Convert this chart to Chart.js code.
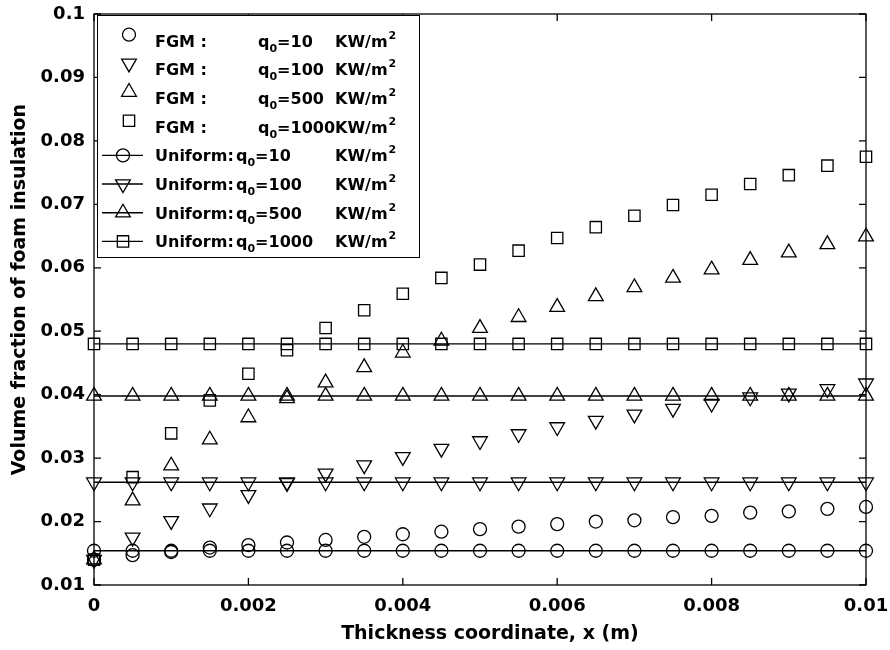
<!DOCTYPE html>
<html lang="en">
<head>
<meta charset="UTF-8">
<title>Volume fraction of foam insulation</title>
<script src="https://cdn.jsdelivr.net/npm/chart.js"></script>
<style>
  body { margin: 0; background: #fff; }
</style>
</head>
<body>
<canvas id="fracChart" width="890" height="650"></canvas>
<script>
// thickness coordinate (m)
const xCoord = [0, 0.0005, 0.001, 0.0015, 0.002, 0.0025, 0.003, 0.0035, 0.004, 0.0045, 0.005,
  0.0055, 0.006, 0.0065, 0.007, 0.0075, 0.008, 0.0085, 0.009, 0.0095, 0.01];

// FGM volume fraction
const fgm10 = [0.0140, 0.0147, 0.0152, 0.0159, 0.0163, 0.0167, 0.0171, 0.0176, 0.0180, 0.0184, 0.0188,
  0.0192, 0.0196, 0.0200, 0.0202, 0.0207, 0.0209, 0.0214, 0.0216, 0.0220, 0.0223];
const fgm100 = [0.0140, 0.0175, 0.0201, 0.0221, 0.0242, 0.0261, 0.0276, 0.0289, 0.0302, 0.0315, 0.0327,
  0.0338, 0.0349, 0.0359, 0.0369, 0.0378, 0.0386, 0.0396, 0.0402, 0.0409, 0.0418];
const fgm500 = [0.0140, 0.0233, 0.0288, 0.0329, 0.0364, 0.0394, 0.0419, 0.0443, 0.0466, 0.0485, 0.0505,
  0.0522, 0.0538, 0.0555, 0.0569, 0.0584, 0.0597, 0.0612, 0.0624, 0.0637, 0.0649];
const fgm1000 = [0.0140, 0.0270, 0.0339, 0.0391, 0.0433, 0.0470, 0.0505, 0.0533, 0.0559, 0.0584, 0.0605,
  0.0627, 0.0647, 0.0664, 0.0682, 0.0699, 0.0715, 0.0732, 0.0746, 0.0761, 0.0775];

// uniform volume fraction
const uni10 = [0.0154, 0.0154, 0.0154, 0.0154, 0.0154, 0.0154, 0.0154, 0.0154, 0.0154, 0.0154, 0.0154,
  0.0154, 0.0154, 0.0154, 0.0154, 0.0154, 0.0154, 0.0154, 0.0154, 0.0154, 0.0154];
const uni100 = [0.0262, 0.0262, 0.0262, 0.0262, 0.0262, 0.0262, 0.0262, 0.0262, 0.0262, 0.0262, 0.0262,
  0.0262, 0.0262, 0.0262, 0.0262, 0.0262, 0.0262, 0.0262, 0.0262, 0.0262, 0.0262];
const uni500 = [0.0398, 0.0398, 0.0398, 0.0398, 0.0398, 0.0398, 0.0398, 0.0398, 0.0398, 0.0398, 0.0398,
  0.0398, 0.0398, 0.0398, 0.0398, 0.0398, 0.0398, 0.0398, 0.0398, 0.0398, 0.0398];
const uni1000 = [0.0480, 0.0480, 0.0480, 0.0480, 0.0480, 0.0480, 0.0480, 0.0480, 0.0480, 0.0480, 0.0480,
  0.0480, 0.0480, 0.0480, 0.0480, 0.0480, 0.0480, 0.0480, 0.0480, 0.0480, 0.0480];

const qValues = ['10', '100', '500', '1000'];
const xTickLabels = ['0', '0.002', '0.004', '0.006', '0.008', '0.01'];
const yTickLabels = ['0.01', '0.02', '0.03', '0.04', '0.05', '0.06', '0.07', '0.08', '0.09', '0.1'];

const FONT = "'DejaVu Sans', sans-serif";

const markers = [
  { pointStyle: 'circle', radius: 6.5, rotation: 0 },
  { pointStyle: 'triangle', radius: 8.5, rotation: 180 },
  { pointStyle: 'triangle', radius: 8.5, rotation: 0 },
  { pointStyle: 'rect', radius: 8, rotation: 0 }
];

function pts(vals) {
  return xCoord.map((x, i) => ({ x: x, y: vals[i] }));
}

function series(label, vals, m, withLine) {
  return {
    label: label,
    data: pts(vals),
    showLine: withLine,
    borderColor: '#000',
    borderWidth: 1.4,
    backgroundColor: 'rgba(0,0,0,0)',
    pointStyle: m.pointStyle,
    pointRadius: m.radius,
    pointHoverRadius: m.radius,
    pointRotation: m.rotation,
    pointBorderColor: '#000',
    pointBackgroundColor: 'rgba(0,0,0,0)',
    pointBorderWidth: 1.3,
    clip: false
  };
}

const fgmSets = [fgm10, fgm100, fgm500, fgm1000];
const uniSets = [uni10, uni100, uni500, uni1000];
const datasets = [];
fgmSets.forEach((v, i) => datasets.push(series('FGM : q0=' + qValues[i] + ' KW/m2', v, markers[i], false)));
uniSets.forEach((v, i) => datasets.push(series('Uniform: q0=' + qValues[i] + ' KW/m2', v, markers[i], true)));

// axes box, inward ticks and the legend with sub/superscripts
const framePlugin = {
  id: 'framePlugin',
  afterDatasetsDraw(chart) {
    const ctx = chart.ctx;
    const a = chart.chartArea;
    const sx = chart.scales.x, sy = chart.scales.y;
    ctx.save();
    ctx.strokeStyle = '#000';
    ctx.lineWidth = 1.3;
    ctx.strokeRect(a.left, a.top, a.right - a.left, a.bottom - a.top);
    ctx.beginPath();
    sx.ticks.forEach(t => {
      const px = sx.getPixelForValue(t.value);
      ctx.moveTo(px, a.bottom); ctx.lineTo(px, a.bottom - 7);
      ctx.moveTo(px, a.top); ctx.lineTo(px, a.top + 7);
    });
    sy.ticks.forEach(t => {
      const py = sy.getPixelForValue(t.value);
      ctx.moveTo(a.left, py); ctx.lineTo(a.left + 7, py);
      ctx.moveTo(a.right, py); ctx.lineTo(a.right - 7, py);
    });
    ctx.stroke();

    // legend
    const box = { l: a.left + 3, t: a.top + 1, r: 419, b: 257 };
    ctx.fillStyle = '#fff';
    ctx.fillRect(box.l, box.t, box.r - box.l, box.b - box.t);
    ctx.lineWidth = 1;
    ctx.strokeRect(box.l + 0.5, box.t + 0.5, box.r - box.l, box.b - box.t);

    const big = 'bold 16px ' + FONT;
    const small = 'bold 11px ' + FONT;
    for (let i = 0; i < 8; i++) {
      const rowY = 40.7 + i * 28.67;
      const k = i % 4;
      const isUni = i >= 4;
      const m = markers[k];
      ctx.strokeStyle = '#000';
      ctx.fillStyle = 'rgba(0,0,0,0)';
      if (isUni) {
        ctx.lineWidth = 1.4;
        ctx.beginPath();
        ctx.moveTo(102, rowY); ctx.lineTo(143, rowY);
        ctx.stroke();
      }
      ctx.lineWidth = 1.3;
      Chart.helpers.drawPoint(ctx, {
        pointStyle: m.pointStyle, radius: m.radius, rotation: m.rotation, borderWidth: 1.3
      }, isUni ? 123 : 129, isUni ? rowY : rowY - 6);

      ctx.fillStyle = '#000';
      ctx.textBaseline = 'alphabetic';
      ctx.textAlign = 'left';
      const base = rowY + 6;
      ctx.font = big;
      ctx.fillText(isUni ? 'Uniform:' : 'FGM :', 155, base);
      let x = isUni ? 236 : 258;
      ctx.fillText('q', x, base);
      x += ctx.measureText('q').width;
      ctx.font = small;
      ctx.fillText('0', x, base + 5);
      x += ctx.measureText('0').width;
      ctx.font = big;
      const eq = '=' + qValues[k];
      ctx.fillText(eq, x, base);
      x += ctx.measureText(eq).width;
      x = Math.max(x, 335);
      ctx.fillText('KW/m', x, base);
      x += ctx.measureText('KW/m').width;
      ctx.font = small;
      ctx.fillText('2', x + 1, base - 8);
    }
    ctx.restore();
  }
};

new Chart(document.getElementById('fracChart'), {
  type: 'scatter',
  data: { datasets: datasets },
  plugins: [framePlugin],
  options: {
    responsive: false,
    animation: false,
    events: [],
    layout: { padding: { top: 14, right: 24, left: 0, bottom: 0 } },
    plugins: {
      legend: { display: false },
      tooltip: { enabled: false }
    },
    scales: {
      x: {
        type: 'linear',
        min: 0,
        max: 0.01,
        afterFit: s => { s.height = 65; s.paddingLeft = 0; s.paddingRight = 0; },
        grid: { display: false, drawTicks: false },
        border: { display: false },
        ticks: {
          stepSize: 0.002,
          padding: 11,
          color: '#000',
          maxRotation: 0,
          font: { family: FONT, size: 18, weight: 'bold' },
          callback: (v, i) => xTickLabels[i]
        },
        title: {
          display: true,
          text: '   Thickness coordinate, x (m)',
          color: '#000',
          padding: { top: 0, bottom: 5 },
          font: { family: FONT, size: 19, weight: 'bold' }
        }
      },
      y: {
        type: 'linear',
        min: 0.01,
        max: 0.1,
        afterFit: s => { s.width = 94; s.paddingTop = 0; s.paddingBottom = 0; },
        grid: { display: false, drawTicks: false },
        border: { display: false },
        ticks: {
          stepSize: 0.01,
          padding: 9,
          color: '#000',
          font: { family: FONT, size: 18, weight: 'bold' },
          callback: (v, i) => yTickLabels[i]
        },
        title: {
          display: true,
          text: '   Volume fraction of foam insulation',
          color: '#000',
          padding: { top: 9, bottom: 0 },
          font: { family: FONT, size: 19, weight: 'bold' }
        }
      }
    }
  }
});
</script>
</body>
</html>
